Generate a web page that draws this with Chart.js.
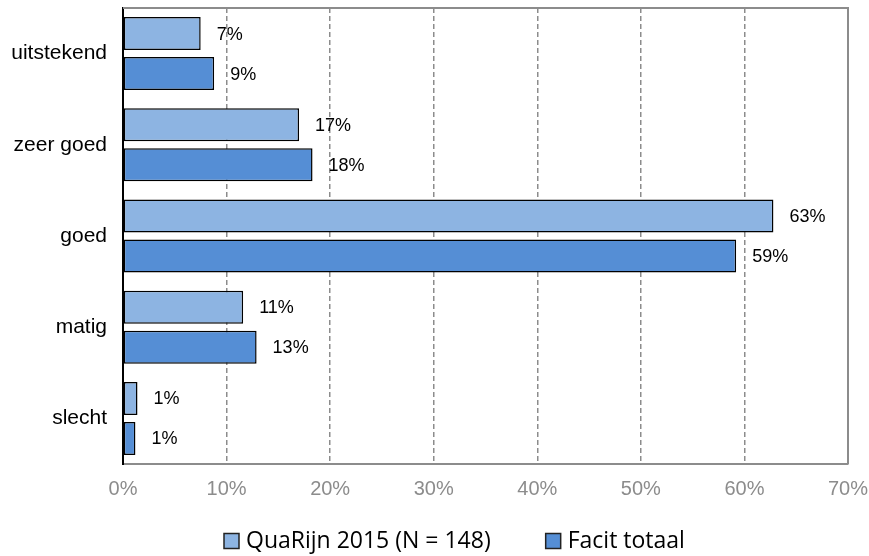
<!DOCTYPE html>
<html>
<head>
<meta charset="utf-8">
<script src="https://cdn.jsdelivr.net/npm/chart.js@4"></script>
<style>
  html, body { margin: 0; padding: 0; background: #fff; }
  #wrap { width: 869px; height: 556px; }
</style>
</head>
<body>
<div id="wrap"><canvas id="chart" width="869" height="556"></canvas></div>
<script>
const categories = ['uitstekend', 'zeer goed', 'goed', 'matig', 'slecht']
const quarijnValues = [7.5, 17.0, 62.8, 11.6, 1.4]
const facitValues = [8.8, 18.3, 59.2, 12.9, 1.2]
const quarijnLabels = ['7%', '17%', '63%', '11%', '1%']
const facitLabels = ['9%', '18%', '59%', '13%', '1%']
const xTicks = [0, 10, 20, 30, 40, 50, 60, 70]

const frameColor = '#8c8c8c'
const legendFont = '23px "Open Sans", "Noto Sans", sans-serif'

// value labels next to each bar end
const barLabels = {
  id: 'barLabels',
  afterDatasetsDraw(chart) {
    const ctx = chart.ctx
    const texts = [quarijnLabels, facitLabels]
    ctx.save()
    ctx.font = '18px "Liberation Sans", Arial, sans-serif'
    ctx.fillStyle = '#000'
    ctx.textBaseline = 'middle'
    chart.data.datasets.forEach((ds, i) => {
      chart.getDatasetMeta(i).data.forEach((bar, j) => {
        ctx.fillText(texts[i][j], bar.x + 16, bar.y + 1)
      })
    })
    ctx.restore()
  }
}

// solid gray frame (top + right) and the legend underneath
const frameAndLegend = {
  id: 'frameAndLegend',
  afterDraw(chart) {
    const { ctx, chartArea } = chart
    ctx.save()
    ctx.strokeStyle = frameColor
    ctx.lineWidth = 2
    ctx.beginPath()
    ctx.moveTo(chartArea.left, chartArea.top)
    ctx.lineTo(chartArea.right, chartArea.top)
    ctx.lineTo(chartArea.right, chartArea.bottom)
    ctx.stroke()

    // legend
    ctx.font = legendFont
    ctx.textBaseline = 'middle'
    const y = 541
    let x = 224
    chart.data.datasets.forEach(ds => {
      ctx.fillStyle = ds.backgroundColor
      ctx.fillRect(x, y - 7.5, 15, 15)
      ctx.strokeStyle = '#222'
      ctx.lineWidth = 1.5
      ctx.strokeRect(x, y - 7.5, 15, 15)
      ctx.fillStyle = '#000'
      ctx.fillText(ds.label, x + 22, y)
      x += 22 + ctx.measureText(ds.label).width + 55
    })
    ctx.restore()
  }
}

new Chart(document.getElementById('chart'), {
  type: 'bar',
  data: {
    labels: categories,
    datasets: [{
      label: 'QuaRijn 2015 (N = 148)',
      data: quarijnValues,
      backgroundColor: '#8DB4E2',
      borderColor: '#000',
      borderWidth: 1.5,
      borderSkipped: false
    }, {
      label: 'Facit totaal',
      data: facitValues,
      backgroundColor: '#558ED5',
      borderColor: '#000',
      borderWidth: 1.5,
      borderSkipped: false
    }]
  },
  plugins: [barLabels, frameAndLegend],
  options: {
    indexAxis: 'y',
    responsive: false,
    animation: false,
    categoryPercentage: 0.877,
    barPercentage: 0.825,
    layout: {
      padding: { top: 8, right: 21, left: 0, bottom: 52 }
    },
    plugins: {
      tooltip: { enabled: false },
      legend: { display: false }
    },
    scales: {
      x: {
        min: 0,
        max: 70,
        afterBuildTicks(scale) {
          scale.ticks = xTicks.map(v => ({ value: v }))
        },
        afterFit(scale) {
          scale.height = 40
          scale.paddingLeft = 0
          scale.paddingRight = 0
        },
        ticks: {
          color: frameColor,
          font: { family: '"Liberation Sans", Arial, sans-serif', size: 20 },
          padding: 13,
          callback: v => v + '%'
        },
        grid: {
          color: ctx => ctx.index === 0 ? 'rgba(0,0,0,0)' : frameColor,
          lineWidth: 1.5,
          drawTicks: false
        },
        border: {
          color: frameColor,
          width: 2,
          dash: [5, 3]
        }
      },
      y: {
        afterFit(scale) {
          scale.width = 123
          scale.paddingTop = 0
          scale.paddingBottom = 0
        },
        ticks: {
          color: '#000',
          font: { family: '"Liberation Sans", Arial, sans-serif', size: 21 },
          padding: 16
        },
        grid: { display: false, drawTicks: false },
        border: { color: '#000', width: 2 }
      }
    }
  }
})
</script>
</body>
</html>
